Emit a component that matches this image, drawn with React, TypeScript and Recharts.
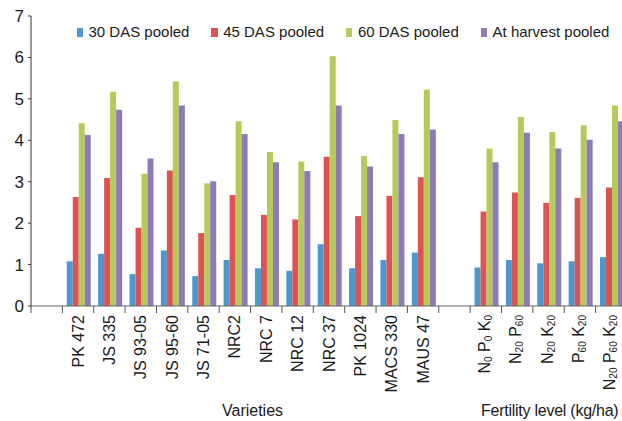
import React from 'react';
import { BarChart, Bar, XAxis, YAxis, Legend } from 'recharts';

const categories = ['', 'PK 472', 'JS 335', 'JS 93-05', 'JS 95-60', 'JS 71-05', 'NRC2', 'NRC 7', 'NRC 12', 'NRC 37', 'PK 1024', 'MACS 330', 'MAUS 47', ' ', 'N0 P0 K0', 'N20 P60', 'N20 K20', 'P60 K20', 'N20 P60 K20'];
const das30 = [null, 1.08, 1.26, 0.77, 1.34, 0.72, 1.11, 0.91, 0.85, 1.49, 0.91, 1.11, 1.29, null, 0.93, 1.11, 1.03, 1.08, 1.18];
const das45 = [null, 2.63, 3.09, 1.89, 3.27, 1.76, 2.68, 2.2, 2.09, 3.6, 2.17, 2.66, 3.11, null, 2.28, 2.74, 2.49, 2.61, 2.86];
const das60 = [null, 4.41, 5.17, 3.19, 5.42, 2.96, 4.46, 3.72, 3.49, 6.03, 3.62, 4.49, 5.22, null, 3.8, 4.56, 4.2, 4.36, 4.84];
const harvest = [null, 4.13, 4.74, 3.56, 4.84, 3.01, 4.15, 3.47, 3.26, 4.84, 3.37, 4.15, 4.26, null, 3.47, 4.18, 3.8, 4.01, 4.46];
const yTicks = [0, 1, 2, 3, 4, 5, 6, 7];
const seriesNames = ['30 DAS pooled', '45 DAS pooled', '60 DAS pooled', 'At harvest pooled'];
const seriesKeys = ['d30', 'd45', 'd60', 'dh'];
const colors = ['#4b98cf', '#dc5452', '#b6ca5a', '#8d7bb7'];
const axisTitles = ['Varieties', 'Fertility level (kg/ha)'];

const data = categories.map((c, i) => ({
  name: c,
  d30: das30[i],
  d45: das45[i],
  d60: das60[i],
  dh: harvest[i],
}));

const FONT = '"Liberation Sans", Arial, sans-serif';

const renderLabel = (label: string) => {
  if (!/^[NPK]\d/.test(label)) {
    return label;
  }
  const parts: React.ReactNode[] = [];
  const re = /([A-Z])(\d+)/g;
  let m: RegExpExecArray | null;
  let k = 0;
  while ((m = re.exec(label)) !== null) {
    parts.push(
      <tspan key={`m${k}`} dy={k === 0 ? 0 : -4}>{(k === 0 ? '' : ' ') + m[1]}</tspan>
    );
    parts.push(
      <tspan key={`s${k}`} dy={4} fontSize={10}>{m[2]}</tspan>
    );
    k++;
  }
  return parts;
};

const XTick = (props: any) => {
  const { x, y, payload, width } = props;
  const half = payload && typeof payload.offset === 'number' && payload.offset > 0
    ? payload.offset
    : (width || 596) / categories.length / 2;
  const label: string = payload ? String(payload.value) : '';
  const isFert = /^[NPK]\d/.test(label);
  return (
    <g>
      <line x1={x - half} x2={x - half} y1={y} y2={y + 7} stroke="#555" strokeWidth={1} />
      {label.trim() !== '' && (
        <text
          transform={`translate(${x + (isFert ? -2 : 0)},${y + 9}) rotate(-90)`}
          x={0}
          y={0}
          textAnchor="end"
          dominantBaseline="central"
          fontSize={16}
          fontFamily={FONT}
          fill="#1a1a1a"
        >
          {renderLabel(label)}
        </text>
      )}
    </g>
  );
};

const renderLegend = () => (
  <div style={{ position: 'relative', width: 622, height: 40, fontFamily: FONT }}>
    {seriesNames.map((n, i) => (
      <div key={n} style={{ position: 'absolute', left: 76.5 + i * 134.7, top: 0 }}>
        <div style={{ position: 'absolute', left: 0, top: 28, width: 6.5, height: 9, background: colors[i] }} />
        <span style={{ position: 'absolute', left: 12, top: 24.3, fontSize: 15, lineHeight: '15px', whiteSpace: 'nowrap', color: '#1a1a1a' }}>{n}</span>
      </div>
    ))}
  </div>
);

export default function App() {
  return (
    <div style={{ position: 'absolute', left: 0, top: 0, width: 622, height: 421, overflow: 'hidden', background: '#fff', fontFamily: FONT }}>
      <BarChart
        width={640}
        height={421}
        data={data}
        margin={{ top: 16, right: 13, bottom: 0, left: 0 }}
        barCategoryGap="14%"
        barGap={0}
      >
        <XAxis
          dataKey="name"
          interval={0}
          height={115}
          tickLine={false}
          tickSize={0}
          tickMargin={0}
          axisLine={{ stroke: '#666', strokeWidth: 1 }}
          tick={<XTick />}
        />
        <YAxis
          width={31}
          domain={[0, 7]}
          ticks={yTicks}
          interval={0}
          tickSize={3}
          tickMargin={4}
          axisLine={{ stroke: '#333', strokeWidth: 1 }}
          tickLine={{ stroke: '#333', strokeWidth: 1 }}
          tick={{ fontSize: 17, fill: '#1a1a1a', fontFamily: FONT }}
        />
        <Legend
          layout="horizontal"
          verticalAlign="middle"
          align="center"
          wrapperStyle={{ top: 0, left: 0, width: 622, height: 40 }}
          content={renderLegend}
        />
        {seriesKeys.map((k, i) => (
          <Bar key={k} dataKey={k} name={seriesNames[i]} fill={colors[i]} isAnimationActive={false} />
        ))}
      </BarChart>
      <div style={{ position: 'absolute', left: 222, top: 402.5, fontSize: 16, lineHeight: '16px', whiteSpace: 'nowrap', color: '#1a1a1a' }}>{axisTitles[0]}</div>
      <div style={{ position: 'absolute', left: 481, top: 402.5, fontSize: 16, lineHeight: '16px', letterSpacing: '-0.25px', whiteSpace: 'nowrap', color: '#1a1a1a' }}>{axisTitles[1]}</div>
    </div>
  );
}
